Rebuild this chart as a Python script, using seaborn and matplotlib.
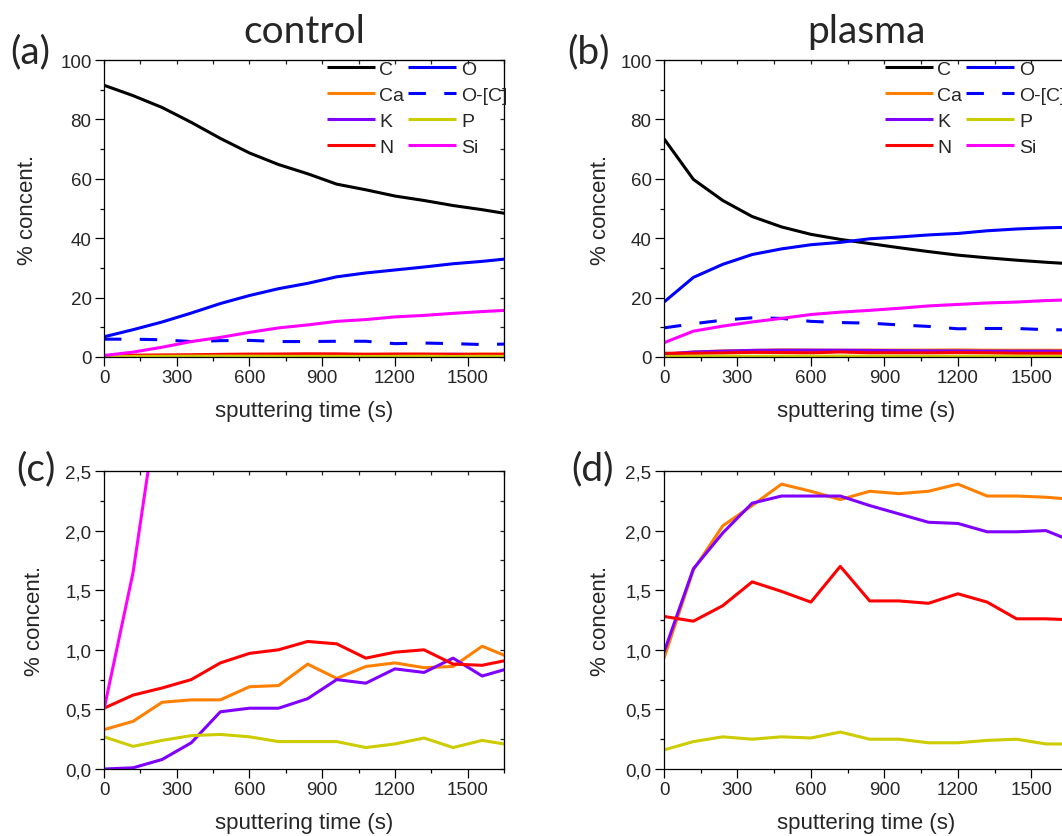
import numpy as np
import pandas as pd
import matplotlib
matplotlib.use("Agg")
import matplotlib.pyplot as plt
from matplotlib.ticker import MultipleLocator, FuncFormatter
from matplotlib.lines import Line2D
import seaborn as sns

# ---------------- data ----------------
times = [0, 120, 240, 360, 480, 600, 720, 840, 960, 1080, 1200, 1320, 1440, 1560, 1680]

control_C = [91.5, 88.0, 84.0, 79.0, 73.6, 68.7, 64.8, 61.7, 58.2, 56.3, 54.2, 52.7, 51.0, 49.6, 48.0]
control_O = [6.8, 9.2, 11.8, 14.8, 18.0, 20.7, 23.0, 24.8, 27.0, 28.3, 29.3, 30.3, 31.4, 32.2, 33.2]
control_OC = [6.0, 6.0, 5.8, 5.2, 5.5, 5.6, 5.2, 5.2, 5.3, 5.3, 4.5, 4.7, 4.5, 4.2, 4.4]
control_Si = [0.5, 1.65, 3.3, 5.2, 6.6, 8.3, 9.8, 10.8, 12.0, 12.6, 13.5, 14.0, 14.7, 15.3, 15.8]
control_Ca = [0.33, 0.40, 0.56, 0.58, 0.58, 0.69, 0.70, 0.88, 0.76, 0.86, 0.89, 0.85, 0.86, 1.03, 0.93]
control_K = [0.00, 0.01, 0.08, 0.22, 0.48, 0.51, 0.51, 0.59, 0.75, 0.72, 0.84, 0.81, 0.93, 0.78, 0.85]
control_P = [0.27, 0.19, 0.24, 0.28, 0.29, 0.27, 0.23, 0.23, 0.23, 0.18, 0.21, 0.26, 0.18, 0.24, 0.20]
control_N = [0.51, 0.62, 0.68, 0.75, 0.89, 0.97, 1.00, 1.07, 1.05, 0.93, 0.98, 1.00, 0.88, 0.87, 0.92]

plasma_C = [73.5, 59.8, 52.7, 47.3, 43.8, 41.3, 39.6, 38.2, 36.8, 35.5, 34.3, 33.4, 32.6, 31.9, 31.3]
plasma_O = [18.5, 26.8, 31.2, 34.5, 36.4, 37.8, 38.6, 39.8, 40.4, 41.1, 41.6, 42.5, 43.1, 43.5, 43.7]
plasma_OC = [9.8, 11.2, 12.4, 13.2, 13.0, 12.0, 11.6, 11.4, 10.8, 10.3, 9.5, 9.6, 9.6, 9.2, 9.1]
plasma_Si = [4.8, 8.7, 10.4, 11.8, 13.0, 14.3, 15.1, 15.7, 16.4, 17.2, 17.7, 18.2, 18.5, 19.0, 19.3]
plasma_Ca = [0.93, 1.67, 2.04, 2.21, 2.39, 2.33, 2.26, 2.33, 2.31, 2.33, 2.39, 2.29, 2.29, 2.28, 2.26]
plasma_K = [0.98, 1.68, 1.98, 2.23, 2.29, 2.29, 2.29, 2.21, 2.14, 2.07, 2.06, 1.99, 1.99, 2.00, 1.90]
plasma_P = [0.16, 0.23, 0.27, 0.25, 0.27, 0.26, 0.31, 0.25, 0.25, 0.22, 0.22, 0.24, 0.25, 0.21, 0.21]
plasma_N = [1.28, 1.24, 1.37, 1.57, 1.49, 1.40, 1.70, 1.41, 1.41, 1.39, 1.47, 1.40, 1.26, 1.26, 1.25]

elements = ["C", "O", "O-[C]", "Ca", "K", "N", "P", "Si"]
colors = {"C": "#000000", "O": "#0000FF", "O-[C]": "#0000FF", "Ca": "#FF8000",
          "K": "#8000FF", "N": "#FF0000", "P": "#CCCC00", "Si": "#FF00FF"}
legend_order = ["C", "Ca", "K", "N", "O", "O-[C]", "P", "Si"]

control = dict(zip(elements, [control_C, control_O, control_OC, control_Ca, control_K,
                              control_N, control_P, control_Si]))
plasma = dict(zip(elements, [plasma_C, plasma_O, plasma_OC, plasma_Ca, plasma_K,
                             plasma_N, plasma_P, plasma_Si]))

sns.set_style("ticks")
plt.rcParams["font.family"] = ["Liberation Sans", "DejaVu Sans"]

W, H = 1062, 837
fig = plt.figure(figsize=(W / 100, H / 100), dpi=100)


def px_axes(x0, y_top, w, h):
    return fig.add_axes([x0 / W, 1 - (y_top + h) / H, w / W, h / H])


LW = 2.2
DASH = (5.7, 6.0)
TICK_FS = 13.5
LABEL_FS = 16


def draw(ax, data, ymax, ymajor, yminor, fmt, legend_x=None, ylabelpad=10):
    for el in elements:
        df = pd.DataFrame({"t": times, "v": data[el]})
        ls = (0, DASH) if el == "O-[C]" else "-"
        sns.lineplot(data=df, x="t", y="v", ax=ax, color=colors[el], lw=LW,
                     linestyle=ls, legend=False, estimator=None, sort=False)
        ax.lines[-1].set_solid_capstyle("butt")
        ax.lines[-1].set_dash_capstyle("butt")
    ax.set_xlim(0, 1650)
    ax.set_ylim(0, ymax)
    ax.xaxis.set_major_locator(MultipleLocator(300))
    ax.xaxis.set_minor_locator(MultipleLocator(150))
    ax.yaxis.set_major_locator(MultipleLocator(ymajor))
    ax.yaxis.set_minor_locator(MultipleLocator(yminor))
    ax.yaxis.set_major_formatter(FuncFormatter(fmt))
    ax.tick_params(which="major", direction="out", length=6.5, width=0.9,
                   labelsize=TICK_FS, pad=2.5, top=False, right=False, color="black")
    ax.tick_params(which="minor", direction="out", length=3, width=0.9,
                   top=False, right=False, color="black")
    for sp in ax.spines.values():
        sp.set_linewidth(0.9)
        sp.set_color("black")
    ax.set_xlabel("sputtering time (s)", fontsize=LABEL_FS, labelpad=10)
    ax.set_ylabel("% concent.", fontsize=LABEL_FS, labelpad=ylabelpad)
    # mirrored inward ticks on top / right
    sx = ax.secondary_xaxis("top")
    sx.set_xticks(np.arange(0, 1651, 150))
    sx.tick_params(direction="in", length=3, width=0.9, labeltop=False)
    sy = ax.secondary_yaxis("right")
    sy.set_yticks(np.arange(0, ymax + 1e-9, yminor))
    sy.tick_params(direction="in", length=3, width=0.9, labelright=False)
    if legend_x is not None:
        handles = []
        for el in legend_order:
            ls = (0, DASH) if el == "O-[C]" else "-"
            handles.append(Line2D([], [], color=colors[el], lw=LW, linestyle=ls,
                                  solid_capstyle="butt", dash_capstyle="butt"))
        ax.legend(handles, legend_order, ncol=2, loc="upper left",
                  bbox_to_anchor=(legend_x, 0.998), frameon=False, fontsize=14,
                  handlelength=2.45, handletextpad=0.25, columnspacing=0.2,
                  labelspacing=0.42, borderpad=0, borderaxespad=0)


fmt_int = lambda v, p: f"{v:.0f}"
fmt_comma = lambda v, p: f"{v:.1f}".replace(".", ",")

ax_a = px_axes(104, 61, 400, 297)
ax_b = px_axes(664, 61, 404, 297)
ax_c = px_axes(104, 472, 400, 298)
ax_d = px_axes(664, 472, 404, 298)

draw(ax_a, control, 100, 20, 10, fmt_int, legend_x=0.5575, ylabelpad=16)
draw(ax_b, plasma, 100, 20, 10, fmt_int, legend_x=0.547, ylabelpad=6.5)
draw(ax_c, control, 2.5, 0.5, 0.25, fmt_comma, ylabelpad=14.4)
draw(ax_d, plasma, 2.5, 0.5, 0.25, fmt_comma, ylabelpad=10)

ax_a.set_title("control", fontfamily="Lato", fontsize=28, pad=13)
ax_b.set_title("plasma", fontfamily="Lato", fontsize=28, pad=13)

for txt, x, y in [("(a)", 10, 63), ("(b)", 567, 63), ("(c)", 16, 480), ("(d)", 571, 480)]:
    fig.text(x / W, 1 - y / H, txt, fontfamily="Lato", fontsize=28, va="baseline", ha="left")

fig.savefig("out.png", dpi=100)
